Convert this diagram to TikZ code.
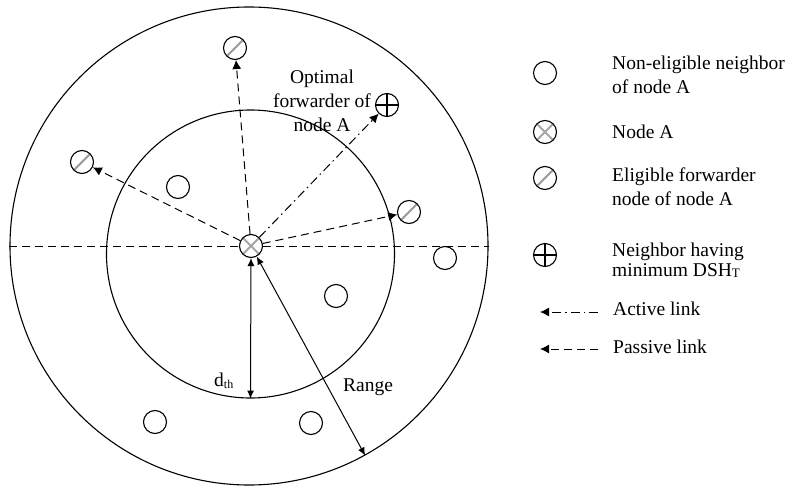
\documentclass[tikz,border=0pt]{standalone}
\usepackage{fontspec}
\setmainfont{Liberation Serif}
\usetikzlibrary{arrows.meta, positioning, calc}

\begin{document}
\begin{tikzpicture}[
      x=1pt, y=-1pt,
      font=\fontsize{19.5}{24}\selectfont,
      ring/.style={circle, draw, line width=1.1pt, inner sep=0pt},
      nbr/.style={circle, draw, line width=1.1pt, fill=white,
                  minimum size=23pt, inner sep=0pt},
      elig/.style={nbr, path picture={\draw[gray!80, line width=2pt]
                  (path picture bounding box.south west) --
                  (path picture bounding box.north east);}},
      src/.style={nbr, path picture={\draw[gray!70, line width=1.8pt]
                  (path picture bounding box.south west) --
                  (path picture bounding box.north east)
                  (path picture bounding box.north west) --
                  (path picture bounding box.south east);}},
      best/.style={nbr, path picture={\draw[line width=1.3pt]
                  (path picture bounding box.north) --
                  (path picture bounding box.south)
                  (path picture bounding box.west) --
                  (path picture bounding box.east);}},
      lbl/.style={inner sep=0pt, align=left},
      arr/.style={-{Latex[length=9pt, width=9pt]}, line width=1pt},
      passive/.style={arr, dash pattern=on 8pt off 5pt},
      active/.style={arr, dash pattern=on 9pt off 4pt on 1.5pt off 4pt},
      dim/.style={{Latex[length=8pt, width=7pt]}-{Latex[length=8pt, width=7pt]},
                  line width=1pt}
    ]
    \useasboundingbox (0,0) rectangle (791,489);

    \node[ring, minimum size=478pt] (outer) at (249,246) {};
    \node[ring, minimum size=288pt] (inner) at (250.5,254) {};

    \node[src]  (A)   at (251,246) {};
    \node[elig] (e1)  at (235,48)  {};
    \node[elig] (e2)  at (82,162)  {};
    \node[elig] (e3)  at (409,212) {};
    \node[best] (opt) at (387,105) {};
    \node[nbr]  (n1)  at (178,187) {};
    \node[nbr]  (n2)  at (336,296) {};
    \node[nbr]  (n3)  at (445,258) {};
    \node[nbr]  (n4)  at (155,422) {};
    \node[nbr]  (n5)  at (311,423) {};

    \draw[line width=1pt, dash pattern=on 8pt off 5pt] (outer.west) -- (A) -- (outer.east);
    \draw[passive] (A) -- (e1);
    \draw[passive] (A) -- (e2);
    \draw[passive] (A) -- (e3);
    \draw[active]  (A) -- (opt);
    \draw[dim] (A) -- (inner.south);
    \draw[dim] (A) -- (outer.-61);

    \node[lbl, anchor=north, align=center] (optlbl) at (322,70) {Optimal\\forwarder of\\node A};
    \node[lbl, anchor=base west] (range) at (343,391.5) {Range};
    \node[lbl, anchor=base west] (dth) at (214,386)
         {d\raisebox{-2pt}{\fontsize{12}{12}\selectfont th}};

    \node[nbr]  (k1) at (545,73)  {};
    \node[src]  (k2) at (545,132) {};
    \node[elig] (k3) at (545,178) {};
    \node[best] (k4) at (545,255) {};
    \coordinate (k5a) at (598,312);
    \coordinate (k5b) at (540,312);
    \coordinate (k6a) at (598,349);
    \coordinate (k6b) at (540,349);
    \draw[active]  (k5a) -- (k5b);
    \draw[passive] (k6a) -- (k6b);

    \node[lbl, anchor=north west] (t1) at (612,55.5)  {Non-eligible neighbor\\of node A};
    \node[lbl, anchor=north west] (t2) at (612,124.7) {Node A};
    \node[lbl, anchor=north west] (t3) at (612,167.4) {Eligible forwarder\\node of node A};
    \node[lbl, anchor=north west] (t4) at (612,242.7)
         {Neighbor having\\[-4pt]minimum DSH\raisebox{-1pt}{\fontsize{13}{13}\selectfont T}};
    \node[lbl, anchor=north west] (t5) at (613,302) {Active link};
    \node[lbl, anchor=north west] (t6) at (613,340) {Passive link};
  \end{tikzpicture}
\end{document}
